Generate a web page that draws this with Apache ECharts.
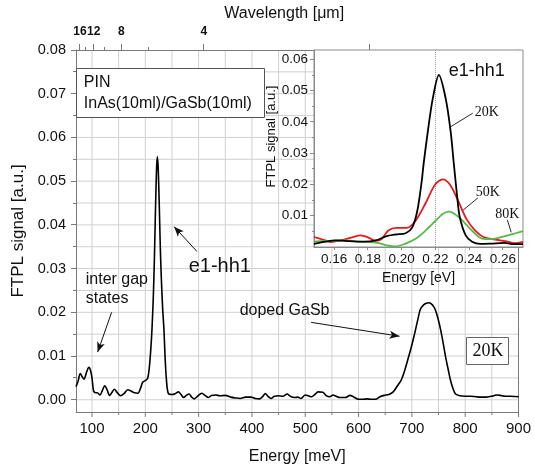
<!DOCTYPE html>
<html>
<head>
<meta charset="utf-8">
<script src="https://cdn.jsdelivr.net/npm/echarts@6/dist/echarts.min.js"></script>
<style>
  html, body { margin: 0; padding: 0; background: #fff; }
  #chart { width: 534px; height: 470px; }
</style>
</head>
<body>
<div id="chart"></div>
<script>
// FTPL spectrum of the PIN InAs(10ml)/GaSb(10ml) structure at 20 K: [energy meV, signal a.u.]
const spectrum20K = [
  [70, 0.0030], [74, 0.0043], [78, 0.0060], [82, 0.0052], [85, 0.0047], [90, 0.0064],
  [94, 0.0074], [97, 0.0068], [100, 0.0050], [103, 0.0020], [107, 0.0016], [110, 0.0016],
  [115, 0.0011], [119, 0.0020], [124, 0.0032], [128, 0.0024], [133, 0.0010], [137, 0.0016],
  [142, 0.0024], [147, 0.0017], [154, 0.0009], [160, 0.0014], [167, 0.0023], [173, 0.0020],
  [180, 0.0016], [186, 0.0015], [191, 0.0026], [195, 0.0040], [200, 0.0044], [204, 0.0048],
  [207, 0.0068], [210, 0.0110], [212.5, 0.0161], [215, 0.0235], [217, 0.0320], [219, 0.0430],
  [221, 0.0525], [222.5, 0.0556], [224, 0.0535], [226, 0.0455], [228, 0.0355], [230, 0.0280],
  [232.5, 0.0210], [235, 0.0160], [237, 0.0100], [239.5, 0.0048], [243, 0.0015], [250, 0.0012],
  [256, 0.0014], [262, 0.0018], [267, 0.0012], [272, 0.0005], [277, 0.0010], [282, 0.0013],
  [287, 0.0006], [292, 0.0002], [298, 0.0008], [306, 0.0015], [312, 0.0010], [318, 0.0005],
  [324, 0.0010], [332, 0.0011], [340, 0.0009], [350, 0.0010], [360, 0.0006], [370, 0.0004],
  [378, 0.0003], [388, 0.0006], [398, 0.0006], [406, 0.0003], [414, 0.0002], [420, 0.0007],
  [425, 0.0014], [430, 0.0008], [436, 0.0003], [442, 0.0008], [450, 0.0009], [458, 0.0008],
  [466, 0.0013], [472, 0.0008], [480, 0.0005], [486, 0.0006], [492, 0.0003], [500, 0.0011],
  [506, 0.0009], [512, 0.0007], [518, 0.0012], [524, 0.0018], [533, 0.0017], [540, 0.0009],
  [546, 0.0007], [552, 0.0011], [558, 0.0008], [565, 0.0005], [575, 0.0005], [584, 0.0010],
  [590, 0.0007], [600, 0.0001], [608, 0.0001], [616, 0.0002], [624, 0.0001], [632, 0.0001],
  [640, 0.0007], [648, 0.0010], [657, 0.0012], [665, 0.0018], [673, 0.0032], [680, 0.0045],
  [686, 0.0065], [692, 0.0090], [698, 0.0116], [703, 0.0140], [707, 0.0161], [712, 0.0188],
  [716, 0.0207], [722, 0.0217], [727, 0.0221], [732, 0.0222], [737, 0.0219], [741, 0.0213],
  [744, 0.0206], [749, 0.0186], [754, 0.0160], [759, 0.0128], [763, 0.0100], [768, 0.0070],
  [772, 0.0047], [777, 0.0026], [782, 0.0013], [790, 0.0009], [800, 0.0008], [810, 0.0008],
  [820, 0.0007], [830, 0.0006], [840, 0.0006], [850, 0.0008], [858, 0.0011], [866, 0.0010],
  [875, 0.0008], [885, 0.0008], [900, 0.0007]
];

// Inset: e1-hh1 line at 20 K, 50 K and 80 K: [energy eV, signal a.u.]
const inset20K = [
  [0.148, 0.0010], [0.155, 0.0017], [0.161, 0.0021], [0.1689, 0.0019], [0.1775, 0.0017],
  [0.1847, 0.0021], [0.1906, 0.0034], [0.1965, 0.0040], [0.2024, 0.0044], [0.2063, 0.0063],
  [0.2093, 0.0116], [0.2119, 0.0210], [0.2130, 0.0264], [0.2155, 0.0368], [0.2184, 0.0473],
  [0.2221, 0.0550], [0.2262, 0.0473], [0.2291, 0.0368], [0.2310, 0.0264], [0.2330, 0.0158],
  [0.2345, 0.0095], [0.2380, 0.0037], [0.2418, 0.0017], [0.2467, 0.0010], [0.2530, 0.0011],
  [0.2610, 0.0013], [0.2667, 0.0009], [0.2720, 0.0009]
];
const inset50K = [
  [0.148, 0.0032], [0.153, 0.0024], [0.158, 0.0016], [0.1636, 0.0021], [0.170, 0.0030],
  [0.1758, 0.0037], [0.180, 0.0031], [0.1843, 0.0020], [0.188, 0.0025], [0.1921, 0.0053],
  [0.197, 0.0061], [0.203, 0.0061], [0.2083, 0.0084], [0.2142, 0.0140], [0.2198, 0.0199],
  [0.2243, 0.0216], [0.2287, 0.0199], [0.2336, 0.0147], [0.2385, 0.0089], [0.2435, 0.0053],
  [0.2485, 0.0032], [0.2554, 0.0024], [0.2613, 0.0019], [0.2673, 0.0012], [0.272, 0.0016]
];
const inset80K = [
  [0.148, 0.0017], [0.159, 0.0020], [0.1669, 0.0021], [0.1748, 0.0017], [0.1847, 0.0014],
  [0.1925, 0.0004], [0.1965, 0.0002], [0.2024, 0.0011], [0.2083, 0.0026], [0.2143, 0.0053],
  [0.2202, 0.0084], [0.2241, 0.0105], [0.2281, 0.0113], [0.2340, 0.0095], [0.2398, 0.0063],
  [0.2458, 0.0032], [0.2497, 0.0025], [0.2556, 0.0027], [0.2615, 0.0035], [0.2675, 0.0044],
  [0.2720, 0.0051]
];
const e1hh1PeakEnergy = 0.224;

// Tick values
const energyTicks = [100, 200, 300, 400, 500, 600, 700, 800, 900];
const energyMinorTicks = [150, 250, 350, 450, 550, 650, 750, 850];
const signalTicks = [0, 0.01, 0.02, 0.03, 0.04, 0.05, 0.06, 0.07, 0.08];
const signalMinorTicks = [0.005, 0.015, 0.025, 0.035, 0.045, 0.055, 0.065, 0.075];
const wavelengthLabels = [16, 12, 8, 4];
const wavelengthMajorTicks = [16, 12, 8, 4, 2];
const wavelengthMinorTicks = [14, 10, 6];
const insetEnergyTicks = [0.16, 0.18, 0.20, 0.22, 0.24, 0.26];
const insetSignalTicks = [0.01, 0.02, 0.03, 0.04, 0.05, 0.06];
const insetSignalMinorTicks = [0.005, 0.015, 0.025, 0.035, 0.045, 0.055];

// photon energy (meV) for a wavelength in micrometres
const toMeV = (um) => 1240 / um;

const SANS = "'Liberation Sans', Arial, sans-serif";
const SERIF = "'Liberation Serif', 'Times New Roman', serif";
const AXIS_GREY = '#7a7a7a';
const INSET_GREY = '#8a8a8a';
const GRID_GREY = '#d0d0d0';
const INK = '#111';

const E_MIN = 70, E_MAX = 900, S_MIN = -0.0028, S_MAX = 0.08;
const IE_MIN = 0.148, IE_MAX = 0.272, IS_MIN = 0, IS_MAX = 0.063;
const MAIN_GRID = { left: 76, right: 12, top: 50, bottom: 57 };

const crisp = (v) => Math.round(v - 0.5) + 0.5;

const chartEl = document.getElementById('chart');
const chart = echarts.init(chartEl, null, { renderer: 'canvas' });

// signal units covered by a tick of len pixels below the energy axis
const plotHeight = chartEl.clientHeight - MAIN_GRID.top - MAIN_GRID.bottom;
const tickUnits = (len) => len * (S_MAX - S_MIN) / plotHeight;

// two-point rule drawn as a plain line series on the main axes
const rule = (points, color, z, clip) => ({
  type: 'line', xAxisIndex: 0, yAxisIndex: 0, data: points,
  showSymbol: false, symbol: 'none', silent: true, animation: false, smooth: false,
  clip: clip, z: z, lineStyle: { color: color, width: 1 },
  emphasis: { disabled: true }, tooltip: { show: false }
});

const gridSeries = []
  .concat(energyTicks.concat(energyMinorTicks).filter(e => e < E_MAX)
    .map(e => rule([[e, S_MIN], [e, S_MAX]], GRID_GREY, 3, true)))
  .concat(signalTicks.concat(signalMinorTicks).filter(s => s < S_MAX)
    .map(s => rule([[E_MIN, s], [E_MAX, s]], GRID_GREY, 3, true)))
  .concat(energyTicks.map(e => rule([[e, S_MIN], [e, S_MIN - tickUnits(5)]], AXIS_GREY, 12, false)))
  .concat(energyMinorTicks.map(e => rule([[e, S_MIN], [e, S_MIN - tickUnits(3)]], AXIS_GREY, 12, false)));

const lineAnno = (pairs) => ({
  silent: true,
  animation: false,
  z: 26,
  symbol: ['none', 'none'],
  label: { show: false },
  emphasis: { disabled: true },
  lineStyle: { color: INK, width: 0.9, type: 'solid' },
  data: pairs.map(p => [{ coord: p[0] }, { coord: p[1] }])
});

const option = {
  animation: false,
  backgroundColor: '#fff',
  textStyle: { fontFamily: SANS, color: INK },
  grid: [
    Object.assign({ show: false }, MAIN_GRID),
    { left: 314, right: 11, top: 50, bottom: 223, show: true, borderColor: INSET_GREY, borderWidth: 1, backgroundColor: '#fff', z: 20 }
  ],
  xAxis: [
    { // energy, bottom
      gridIndex: 0, type: 'value', position: 'bottom', min: E_MIN, max: E_MAX, z: 12,
      axisLine: { show: true, onZero: false, lineStyle: { color: AXIS_GREY } },
      axisTick: { show: false },
      axisLabel: { customValues: energyTicks, fontSize: 15, color: INK, margin: 9, fontFamily: SANS },
      splitLine: { show: false },
      name: 'Energy [meV]', nameLocation: 'middle', nameGap: 37,
      nameTextStyle: { fontSize: 16, color: INK, fontFamily: SANS }
    },
    { // wavelength, top
      gridIndex: 0, type: 'value', position: 'top', min: E_MIN, max: E_MAX, z: 12,
      axisLine: { show: true, onZero: false, lineStyle: { color: AXIS_GREY } },
      axisTick: { show: false },
      axisLabel: {
        customValues: wavelengthLabels.map(toMeV), fontSize: 12, fontWeight: 'bold', color: INK, margin: 12,
        formatter: (v) => String(Math.round(1240 / v))
      },
      splitLine: { show: false },
      name: 'Wavelength [\u03bcm]', nameLocation: 'middle', nameGap: 26,
      nameTextStyle: { fontSize: 16, color: INK, padding: [0, 26, 0, 0] }
    },
    { // inset energy
      gridIndex: 1, type: 'value', position: 'bottom', min: IE_MIN, max: IE_MAX, z: 22,
      axisLine: { show: true, onZero: false, lineStyle: { color: INSET_GREY } },
      axisTick: { show: false },
      axisLabel: { customValues: insetEnergyTicks, fontSize: 13.5, color: INK, margin: 5, formatter: (v) => v.toFixed(2) },
      splitLine: { show: false },
      name: 'Energy [eV]', nameLocation: 'middle', nameGap: 24,
      nameTextStyle: { fontSize: 14, color: INK }
    }
  ],
  yAxis: [
    { // signal, left
      gridIndex: 0, type: 'value', position: 'left', min: S_MIN, max: S_MAX, z: 12,
      axisLine: { show: true, onZero: false, lineStyle: { color: AXIS_GREY } },
      axisTick: { show: false },
      axisLabel: { customValues: signalTicks, fontSize: 14.5, color: INK, margin: 10, formatter: (v) => v.toFixed(2) },
      splitLine: { show: false },
      name: 'FTPL signal [a.u.]', nameLocation: 'middle', nameGap: 47,
      nameTextStyle: { fontSize: 17, color: INK }
    },
    { // right frame of the main plot
      gridIndex: 0, type: 'value', position: 'right', min: S_MIN, max: S_MAX, z: 12,
      axisLine: { show: true, onZero: false, lineStyle: { color: AXIS_GREY } },
      axisTick: { show: false }, axisLabel: { show: false }, splitLine: { show: false }
    },
    { // inset signal
      gridIndex: 1, type: 'value', position: 'left', min: IS_MIN, max: IS_MAX, z: 22,
      axisLine: { show: true, onZero: false, lineStyle: { color: INSET_GREY } },
      axisTick: { show: false },
      axisLabel: { customValues: insetSignalTicks, fontSize: 13.5, color: INK, margin: 6, formatter: (v) => v.toFixed(2) },
      splitLine: { show: false },
      name: 'FTPL signal [a.u.]', nameLocation: 'middle', nameGap: 31,
      nameTextStyle: { fontSize: 13, color: INK, padding: [0, 0, 0, 24] }
    }
  ],
  series: gridSeries.concat([
    {
      name: '20K', type: 'line', xAxisIndex: 0, yAxisIndex: 0, data: spectrum20K,
      showSymbol: false, smooth: 0.3, z: 14,
      lineStyle: { color: '#000', width: 1.6 },
      markLine: {
        silent: true, animation: false, z: 15,
        symbol: ['none', 'arrow'], symbolSize: [6, 10],
        label: { show: false }, emphasis: { disabled: true },
        lineStyle: { color: INK, width: 1, type: 'solid' },
        data: [
          [{ coord: [297, 0.0339] }, { coord: [254, 0.0396] }],
          [{ coord: [136.8, 0.0200] }, { coord: [110.6, 0.0109] }],
          [{ coord: [511, 0.0177] }, { coord: [676.8, 0.01453] }]
        ]
      }
    },
    {
      name: '20K inset', type: 'line', xAxisIndex: 2, yAxisIndex: 2, data: inset20K,
      showSymbol: false, smooth: 0.3, z: 25,
      lineStyle: { color: '#000', width: 1.8 },
      markLine: {
        silent: true, animation: false, z: 23, symbol: ['none', 'none'],
        label: { show: false }, emphasis: { disabled: true },
        data: [
          { xAxis: e1hh1PeakEnergy, lineStyle: { color: '#9a9a9a', width: 1, type: 'dotted' } },
          [{ coord: [0.2422, 0.0428], lineStyle: { color: INK, width: 0.9, type: 'solid' } }, { coord: [0.2292, 0.0385] }]
        ]
      }
    },
    {
      name: '50K inset', type: 'line', xAxisIndex: 2, yAxisIndex: 2, data: inset50K,
      showSymbol: false, smooth: 0.3, z: 24,
      lineStyle: { color: '#e8191d', width: 1.8 },
      markLine: lineAnno([[[0.2452, 0.0157], [0.2365, 0.0118]]])
    },
    {
      name: '80K inset', type: 'line', xAxisIndex: 2, yAxisIndex: 2, data: inset80K,
      showSymbol: false, smooth: 0.3, z: 24,
      lineStyle: { color: '#55b948', width: 1.8 },
      markLine: lineAnno([[[0.2627, 0.0087], [0.2650, 0.0047]]])
    }
  ])
};

chart.setOption(option);

// Tick marks on the remaining edges and text annotations, placed through the axes' own scales
const mainPx = (p) => chart.convertToPixel({ xAxisIndex: 0, yAxisIndex: 0 }, p);
const insetPx = (p) => chart.convertToPixel({ xAxisIndex: 2, yAxisIndex: 2 }, p);
const xa = mainPx([200, 0.02]), xb = mainPx([800, 0.06]);
const mainX = (e) => xa[0] + (e - 200) * (xb[0] - xa[0]) / 600;
const mainY = (s) => xa[1] + (s - 0.02) * (xb[1] - xa[1]) / 0.04;
const ia = insetPx([0.18, 0.02]), ib = insetPx([0.26, 0.05]);
const insetX = (e) => ia[0] + (e - 0.18) * (ib[0] - ia[0]) / 0.08;
const insetY = (s) => ia[1] + (s - 0.02) * (ib[1] - ia[1]) / 0.03;

const seg = (x1, y1, x2, y2, color, z) => ({
  type: 'line', silent: true, z: z,
  shape: { x1: x1, y1: y1, x2: x2, y2: y2 },
  style: { stroke: color, lineWidth: 1 }
});

const mLeft = mainX(E_MIN), mTop = mainY(S_MAX);
const iLeft = insetX(IE_MIN), iBottom = insetY(IS_MIN);

const gfx = [];

signalTicks.forEach(s => { const y = crisp(mainY(s)); gfx.push(seg(mLeft - 5, y, mLeft, y, AXIS_GREY, 12)); });
signalMinorTicks.forEach(s => { const y = crisp(mainY(s)); gfx.push(seg(mLeft - 3, y, mLeft, y, AXIS_GREY, 12)); });
wavelengthMajorTicks.forEach(um => { const x = crisp(mainX(toMeV(um))); gfx.push(seg(x, mTop - 6, x, mTop, AXIS_GREY, 12)); });
wavelengthMinorTicks.forEach(um => { const x = crisp(mainX(toMeV(um))); gfx.push(seg(x, mTop - 3, x, mTop, AXIS_GREY, 12)); });

insetSignalTicks.forEach(s => { const y = crisp(insetY(s)); gfx.push(seg(iLeft - 4, y, iLeft, y, INSET_GREY, 22)); });
insetSignalMinorTicks.forEach(s => { const y = crisp(insetY(s)); gfx.push(seg(iLeft - 2, y, iLeft, y, INSET_GREY, 22)); });
insetEnergyTicks.forEach(e => { const x = crisp(insetX(e)); gfx.push(seg(x, iBottom, x, iBottom + 3, INSET_GREY, 22)); });

const text = (pos, str, font, size, align) => ({
  type: 'text', x: pos[0], y: pos[1], z: 30, silent: true,
  style: { text: str, fontFamily: font, fontSize: size, fill: INK, align: align || 'center', verticalAlign: 'middle' }
});
const mainAt = (e, s) => [mainX(e), mainY(s)];
const insetAt = (e, s) => [insetX(e), insetY(s)];
const pinCorner = mainAt(71.5, 0.0757);
const box20K = mainAt(842.6, 0.0111);
const gapText = mainAt(88.3, 0.02536);

gfx.push(
  { type: 'rect', z: 16, silent: true, shape: { x: crisp(pinCorner[0]), y: crisp(pinCorner[1]), width: 188, height: 49 },
    style: { fill: '#fff', stroke: '#555', lineWidth: 1 } },
  { type: 'text', z: 17, silent: true, x: pinCorner[0] + 7, y: pinCorner[1] + 3,
    style: { text: 'PIN\nInAs(10ml)/GaSb(10ml)', fontFamily: SANS, fontSize: 16, lineHeight: 21, fill: INK, align: 'left', verticalAlign: 'top' } },
  text(mainAt(339.7, 0.0305), 'e1-hh1', SANS, 20),
  { type: 'text', z: 17, silent: true, x: gapText[0], y: gapText[1],
    style: { text: 'inter gap\nstates', fontFamily: SANS, fontSize: 16, lineHeight: 19, fill: INK, align: 'left', verticalAlign: 'middle' } },
  text(mainAt(377, 0.02046), 'doped GaSb', SANS, 16, 'left'),
  { type: 'rect', z: 16, silent: true, shape: { x: crisp(box20K[0] - 21), y: crisp(box20K[1] - 13.5), width: 42, height: 27 },
    style: { fill: '#fff', stroke: '#666', lineWidth: 1 } },
  text(box20K, '20K', SERIF, 18),
  text(insetAt(0.2446, 0.0562), 'e1-hh1', SANS, 18),
  text(insetAt(0.2505, 0.0431), '20K', SERIF, 14),
  text(insetAt(0.2511, 0.0176), '50K', SERIF, 14),
  text(insetAt(0.2627, 0.0106), '80K', SERIF, 14)
);

chart.setOption({ graphic: gfx });
</script>
</body>
</html>
